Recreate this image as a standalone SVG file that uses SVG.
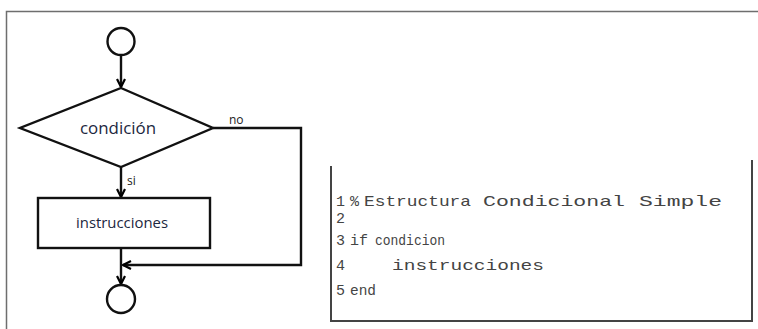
<svg xmlns="http://www.w3.org/2000/svg" width="758" height="329" viewBox="0 0 758 329">
  <defs>
    <marker id="arrow" viewBox="0 0 10 10" refX="9" refY="5" markerWidth="10" markerHeight="10" markerUnits="userSpaceOnUse" orient="auto">
      <path d="M1,1 L9,5 L1,9" fill="none" stroke="#000" stroke-width="2.2"/>
    </marker>
  </defs>
  <style>
    .shape { fill: #fff; stroke: #111; stroke-width: 2.4; }
    .edge { fill: none; stroke: #111; stroke-width: 2.4; }
    .frame { fill: none; stroke: #6e6e6e; stroke-width: 1.5; }
    .panel { fill: none; stroke: #444; stroke-width: 2; }
    .label { font-family: "Open Sans", "Liberation Sans", sans-serif; fill: #1c2740; }
    .tag { font-family: "Open Sans", "Liberation Sans", sans-serif; font-size: 12px; fill: #222; }
    .code { font-family: "Liberation Mono", "DejaVu Sans Mono", monospace; font-size: 15px; fill: #444; }
  </style>

  <rect width="758" height="329" fill="#fff"/>

  <!-- outer frame: top and left edges -->
  <path class="frame" d="M6.5,329 V11.5 H758"/>

  <!-- connectors -->
  <g id="connectors">
    <line class="edge" x1="121" y1="55" x2="121" y2="87" marker-end="url(#arrow)"/>
    <line class="edge" x1="121" y1="167" x2="121" y2="197" marker-end="url(#arrow)"/>
    <polyline class="edge" points="213,128 301,128 301,265 123,265" marker-end="url(#arrow)"/>
    <line class="edge" x1="121" y1="248" x2="121" y2="284" marker-end="url(#arrow)"/>
    <text class="tag" x="229" y="124">no</text>
    <text class="tag" x="127" y="185">si</text>
  </g>

  <!-- start -->
  <g id="start">
    <circle class="shape" cx="121" cy="41.5" r="13.5"/>
  </g>

  <!-- decision -->
  <g id="decision">
    <polygon class="shape" points="121,88 213,128 121,167 20,128"/>
    <text class="label" x="118" y="134" font-size="16" text-anchor="middle" textLength="76" lengthAdjust="spacingAndGlyphs">condición</text>
  </g>

  <!-- process -->
  <g id="process">
    <rect class="shape" x="38" y="198" width="172" height="50"/>
    <text class="label" x="122" y="228" font-size="15" text-anchor="middle" textLength="92" lengthAdjust="spacingAndGlyphs" fill="#222">instrucciones</text>
  </g>

  <!-- end -->
  <g id="end">
    <circle class="shape" cx="121" cy="299" r="14"/>
  </g>

  <!-- code listing -->
  <g id="code">
    <path class="panel" d="M331,166 V321 H752 V160"/>
    <!-- line 1 -->
    <text class="code" x="336" y="206">1</text>
    <text class="code" x="350" y="206">%</text>
    <text class="code" x="364" y="206" textLength="107" lengthAdjust="spacingAndGlyphs">Estructura</text>
    <text class="code" x="483" y="206" textLength="142" lengthAdjust="spacingAndGlyphs">Condicional</text>
    <text class="code" x="639" y="206" textLength="83" lengthAdjust="spacingAndGlyphs">Simple</text>
    <!-- line 2 -->
    <text class="code" x="336" y="223">2</text>
    <!-- line 3 -->
    <text class="code" x="336" y="245">3</text>
    <text class="code" x="350" y="245" textLength="18" lengthAdjust="spacingAndGlyphs">if</text>
    <text class="code" x="375" y="245" textLength="70" lengthAdjust="spacingAndGlyphs">condicion</text>
    <!-- line 4 -->
    <text class="code" x="336" y="270">4</text>
    <text class="code" x="392" y="270" textLength="152" lengthAdjust="spacingAndGlyphs">instrucciones</text>
    <!-- line 5 -->
    <text class="code" x="336" y="295">5</text>
    <text class="code" x="350" y="295" textLength="26" lengthAdjust="spacingAndGlyphs">end</text>
  </g>
</svg>
